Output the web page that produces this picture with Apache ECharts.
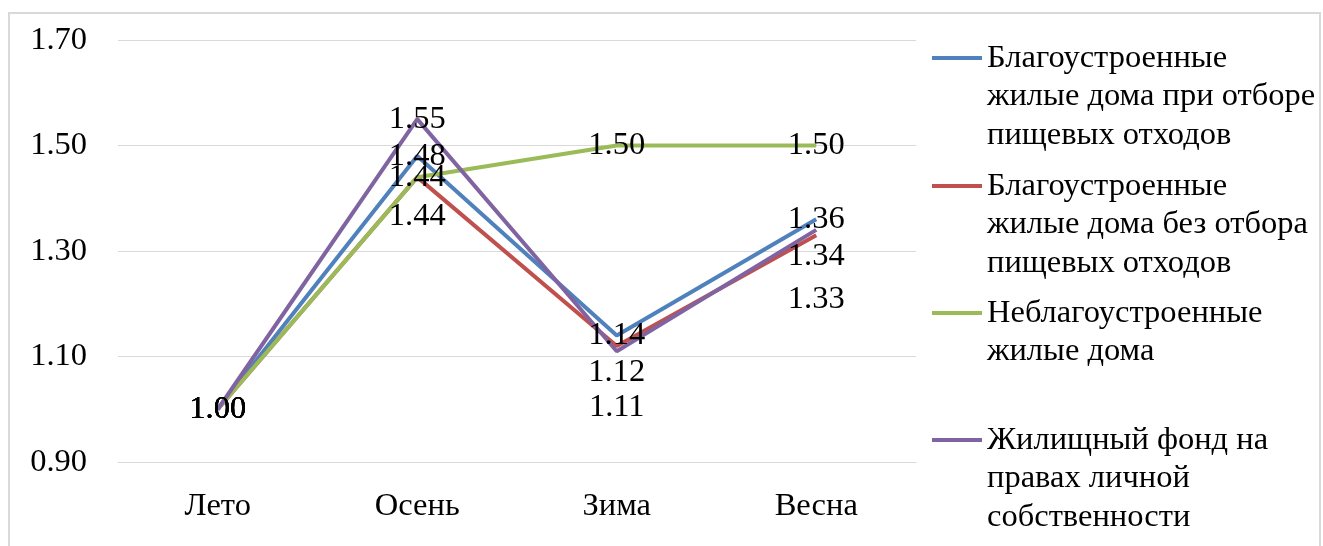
<!DOCTYPE html>
<html>
<head>
<meta charset="utf-8">
<script src="https://cdn.jsdelivr.net/npm/echarts@6/dist/echarts.min.js"></script>
<style>
  html, body { margin: 0; padding: 0; background: #fff; }
  #chart { width: 1323px; height: 546px; }
</style>
</head>
<body>
<div id="chart"></div>
<script>
// Seasons on the category axis
const seasons = ['Лето', 'Осень', 'Зима', 'Весна'];

// Seasonal coefficients per housing type
const seriesNames = [
  'Благоустроенные жилые дома при отборе пищевых отходов',
  'Благоустроенные жилые дома без отбора пищевых отходов',
  'Неблагоустроенные жилые дома',
  'Жилищный фонд на правах личной собственности'
];
const withSorting    = [1.00, 1.48, 1.14, 1.36];
const withoutSorting = [1.00, 1.44, 1.12, 1.33];
const unimproved     = [1.00, 1.44, 1.50, 1.50];
const privateHousing = [1.00, 1.55, 1.11, 1.34];

// Legend wording, broken into lines
const legendLines = [
  ['Благоустроенные', 'жилые дома при отборе', 'пищевых отходов'],
  ['Благоустроенные', 'жилые дома без отбора', 'пищевых отходов'],
  ['Неблагоустроенные', 'жилые дома'],
  ['Жилищный фонд на', 'правах личной', 'собственности']
];

// Styling
const colors = ['#4F81BD', '#C0504D', '#9BBB59', '#8064A2'];
const labelDrop = [
  [0, 0, 0, 0],
  [0, 39, 27, 64],
  [0, 0, 0, 0],
  [0, 0, 56, 27]
];
const FONT = '"Liberation Serif", "Times New Roman", serif';
const FS = 32.5;
const LH = 38.5;
const legendFirstLine = [58, 186, 313, 440];

const values = [withSorting, withoutSorting, unimproved, privateHousing];

const chart = echarts.init(document.getElementById('chart'), null, { renderer: 'canvas' });

const series = values.map((vals, i) => ({
  name: seriesNames[i],
  type: 'line',
  data: vals,
  color: colors[i],
  symbol: 'circle',
  symbolSize: 0,
  lineStyle: { width: 4, color: colors[i] },
  itemStyle: { color: colors[i] },
  emphasis: { disabled: true },
  label: {
    show: true,
    position: 'inside',
    formatter: p => p.value.toFixed(2),
    fontFamily: FONT,
    fontSize: FS,
    color: '#000'
  },
  labelLayout: p => ({ dy: labelDrop[i][p.dataIndex] })
}));

const legends = seriesNames.map((name, i) => {
  const n = legendLines[i].length;
  const blockH = (2 * n - 1) * LH;
  return {
    data: [name],
    orient: 'vertical',
    left: 932,
    top: legendFirstLine[i] - blockH / 2,
    padding: 0,
    icon: 'rect',
    itemWidth: 50,
    itemHeight: 4,
    formatter: () => '\n'.repeat(n - 1) + legendLines[i].join('\n'),
    textStyle: { fontFamily: FONT, fontSize: FS, lineHeight: LH, color: '#000' }
  };
});

chart.setOption({
  backgroundColor: '#fff',
  animation: false,
  graphic: [{
    type: 'rect',
    shape: { x: 9, y: 13, width: 1311, height: 600 },
    style: { fill: 'none', stroke: '#d9d9d9', lineWidth: 2 },
    silent: true,
    z: -10
  }],
  grid: { left: 118, right: 407, top: 40, bottom: 84 },
  legend: legends,
  xAxis: {
    type: 'category',
    data: seasons,
    boundaryGap: true,
    axisLine: { show: true, lineStyle: { color: '#d9d9d9', width: 1 } },
    axisTick: { show: false },
    axisLabel: { margin: 28, fontFamily: FONT, fontSize: FS, color: '#000' }
  },
  yAxis: {
    type: 'value',
    min: 0.9,
    max: 1.7,
    interval: 0.2,
    axisLine: { show: false },
    axisTick: { show: false },
    splitLine: { lineStyle: { color: '#d9d9d9', width: 1 } },
    axisLabel: {
      margin: 31,
      formatter: v => v.toFixed(2),
      fontFamily: FONT,
      fontSize: FS,
      color: '#000'
    }
  },
  series: series
});
</script>
</body>
</html>
